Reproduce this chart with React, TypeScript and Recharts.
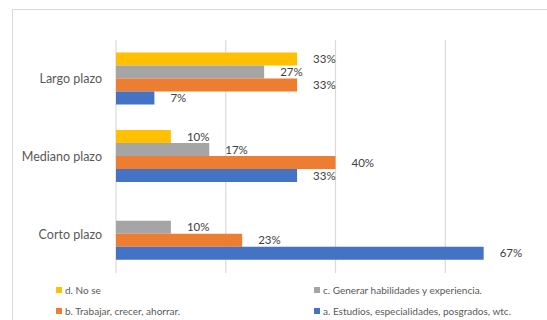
import { BarChart, Bar, XAxis, YAxis, CartesianGrid, LabelList } from "recharts";

// plazos (de arriba hacia abajo)
const plazos = ["Largo plazo", "Mediano plazo", "Corto plazo"];

// valores en %
const noSe = [33, 10, null];
const habilidades = [27, 17, 10];
const trabajar = [33, 40, 23];
const estudios = [7, 33, 67];

const xTicks = [0, 20, 40, 60, 80];

const series = [
  { key: "d", name: "d. No se", color: "#FFC000", values: noSe },
  { key: "c", name: "c. Generar habilidades y experiencia.", color: "#A5A5A5", values: habilidades },
  { key: "b", name: "b. Trabajar, crecer, ahorrar.", color: "#ED7D31", values: trabajar },
  { key: "a", name: "a. Estudios, especialidades, posgrados, wtc.", color: "#4472C4", values: estudios },
];

const data = plazos.map((p, i) => {
  const row: Record<string, string | number | null> = { plazo: p };
  series.forEach((s) => (row[s.key] = s.values[i]));
  return row;
});

const fmt = (v: any) => (v == null ? "" : `${v}%`);

// leyenda en 2 columnas como en Excel
function Leyenda() {
  return (
    <div style={{ display: "grid", gridTemplateColumns: "258px 260px", rowGap: 8, fontSize: 10, color: "#595959" }}>
      {series.map((s) => (
        <div key={s.key} style={{ display: "flex", alignItems: "center", height: 13 }}>
          <span style={{ width: 6, height: 6, background: s.color, marginRight: 3, display: "inline-block" }} />
          <span>{s.name}</span>
        </div>
      ))}
    </div>
  );
}

export default function App() {
  return (
    <div
      style={{
        position: "fixed",
        left: 0,
        top: 0,
        width: 547,
        height: 320,
        overflow: "hidden",
        background: "#fff",
        fontFamily: "Lato, 'Open Sans', sans-serif",
      }}
    >
      {/* borde del area del grafico */}
      <div
        style={{
          position: "absolute",
          left: 12,
          top: 9,
          width: 600,
          height: 400,
          border: "1px solid #d9d9d9",
        }}
      />
      <div style={{ position: "absolute", left: 0, top: 0 }}>
        <BarChart
          width={590}
          height={320}
          data={data}
          layout="vertical"
          margin={{ top: 40, right: 35, bottom: 47, left: 0 }}
          barCategoryGap="16%"
          barGap={0}
        >
          <CartesianGrid horizontal={false} stroke="#d9d9d9" strokeWidth={1.2} />
          <XAxis type="number" domain={[0, 80]} ticks={xTicks} hide />
          <YAxis
            type="category"
            dataKey="plazo"
            width={116}
            axisLine={false}
            tickLine={false}
            tickSize={0}
            tickMargin={14}
            tick={{ fill: "#595959", fontSize: 12.5 }}
          />
          {series.map((s) => (
            <Bar key={s.key} dataKey={s.key} name={s.name} fill={s.color} isAnimationActive={false}>
              <LabelList
                dataKey={s.key}
                position="right"
                offset={16}
                formatter={fmt}
                style={{ fill: "#404040", fontSize: 11.5 }}
              />
            </Bar>
          ))}
        </BarChart>
      </div>
      <div style={{ position: "absolute", left: 56, top: 283 }}>
        <Leyenda />
      </div>
    </div>
  );
}
